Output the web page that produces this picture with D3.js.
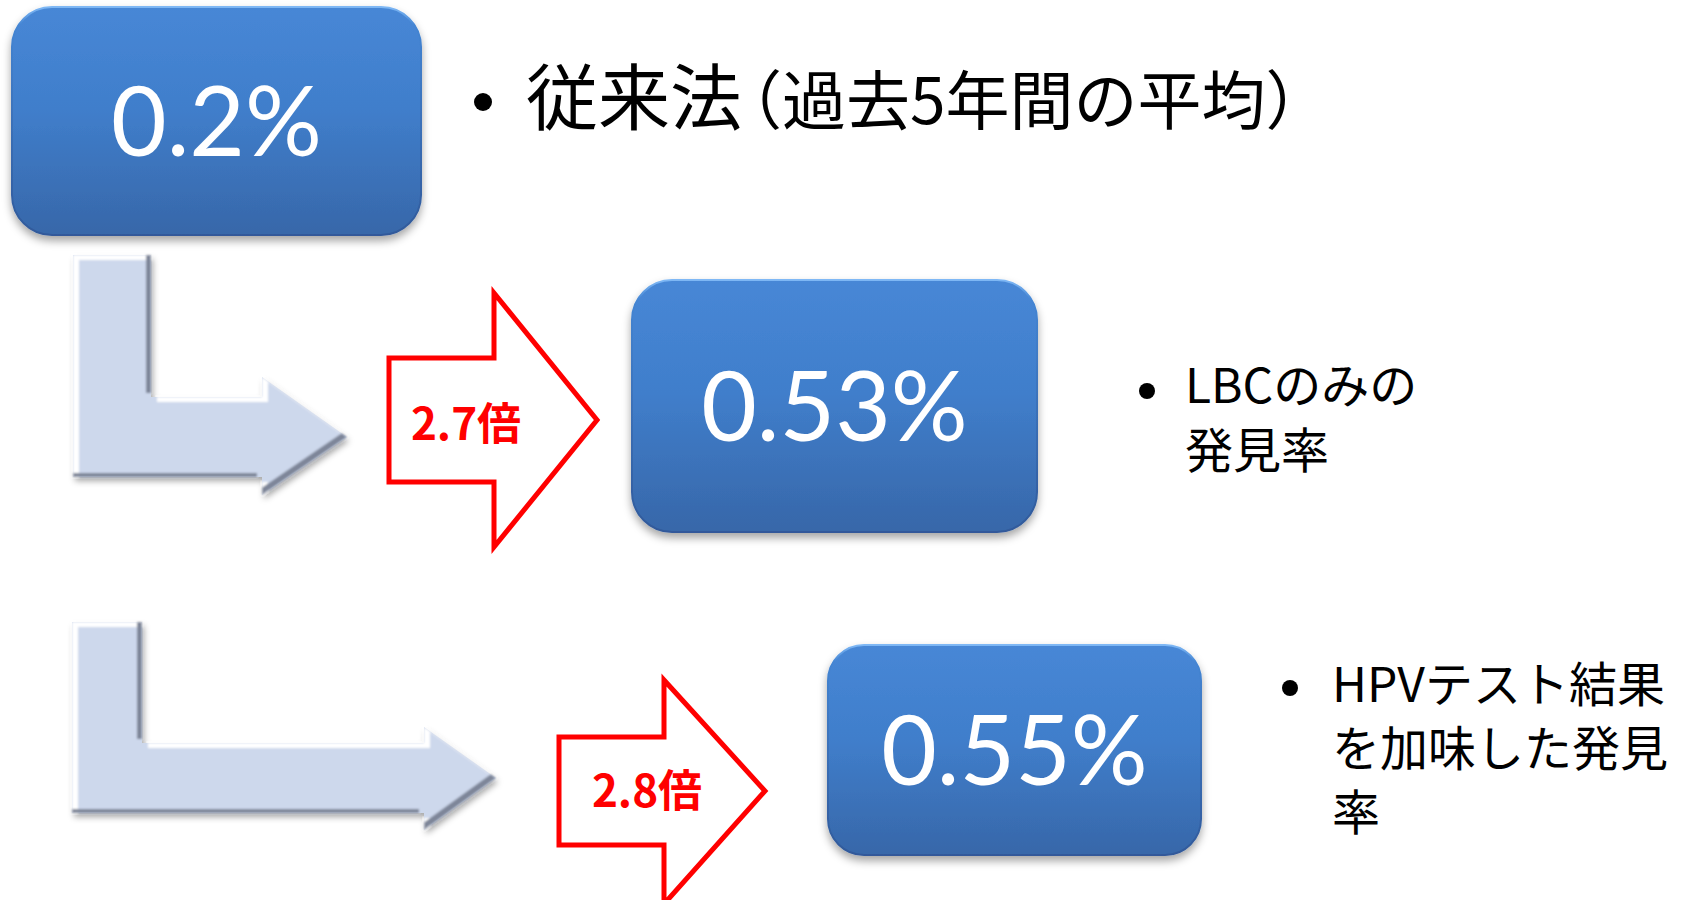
<!DOCTYPE html>
<html>
<head>
<meta charset="utf-8">
<script src="https://cdn.jsdelivr.net/npm/d3@7"></script>
<style>
  html, body { margin: 0; padding: 0; background: #ffffff; }
</style>
</head>
<body>
<div id="chart"></div>
<script>
// values
const rates = [0.2, 0.53, 0.55];
const ratios = [2.7, 2.8];
const noteLines = [
  ["LBCのみの", "発見率"],
  ["HPVテスト結果", "を加味した発見", "率"]
];
const headMain = "従来法";
const headSub = "（過去5年間の平均）";

const width = 1686;
const height = 900;

// layout of the diagram
const boxes = [
  {x: 12, y: 7, w: 409, h: 228, r: 40},
  {x: 632, y: 280, w: 405, h: 252, r: 40},
  {x: 828, y: 645, w: 373, h: 210, r: 36}
];
const elbows = [
  {x0: 73, y0: 255, bar: 78, x1: 262, yTop: 397, yBot: 477, headTop: 377, headBot: 495, tip: 347},
  {x0: 72, y0: 622, bar: 70, x1: 424, yTop: 743, yBot: 813, headTop: 727, headBot: 830, tip: 496}
];
const redArrows = [
  {x0: 389, top: 358, bot: 482, x1: 494, headTop: 293, headBot: 547, tip: 597, tx: 466, ty: 440},
  {x0: 559, top: 737, bot: 845, x1: 664, headTop: 680, headBot: 904, tip: 765, tx: 647, ty: 807}
];
const notePos = [
  {bx: 1147, by: 391, x: 1185, y: 403, lh: 65},
  {bx: 1290, by: 688, x: 1332, y: 702, lh: 64}
];

const fmtRate = d => d3.format("")(d) + "%";
const fmtRatio = d => d3.format(".1f")(d) + "倍";

const svg = d3.select("#chart")
  .append("svg")
  .attr("width", width)
  .attr("height", height)
  .style("background-color", "#FFFFFF");

const defs = svg.append("defs");

// box fill gradient
const g1 = defs.append("linearGradient").attr("id", "boxFill")
  .attr("x1", 0).attr("y1", 0).attr("x2", 0).attr("y2", 1);
g1.append("stop").attr("offset", "0%").attr("stop-color", "#4787d6");
g1.append("stop").attr("offset", "45%").attr("stop-color", "#407ecb");
g1.append("stop").attr("offset", "100%").attr("stop-color", "#3767a9");

const g2 = defs.append("linearGradient").attr("id", "boxEdge")
  .attr("x1", 0).attr("y1", 0).attr("x2", 0).attr("y2", 1);
g2.append("stop").attr("offset", "0%").attr("stop-color", "#7fb8f5");
g2.append("stop").attr("offset", "8%").attr("stop-color", "#4485d3");
g2.append("stop").attr("offset", "100%").attr("stop-color", "#30599a");

// drop shadow for boxes
const fb = defs.append("filter").attr("id", "boxShadow")
  .attr("x", "-10%").attr("y", "-10%").attr("width", "120%").attr("height", "130%");
fb.append("feGaussianBlur").attr("in", "SourceAlpha").attr("stdDeviation", 4).attr("result", "blur");
fb.append("feOffset").attr("in", "blur").attr("dx", 0).attr("dy", 5).attr("result", "off");
fb.append("feFlood").attr("flood-color", "#000").attr("flood-opacity", 0.35);
fb.append("feComposite").attr("in2", "off").attr("operator", "in").attr("result", "sh");
const fbm = fb.append("feMerge");
fbm.append("feMergeNode").attr("in", "sh");
fbm.append("feMergeNode").attr("in", "SourceGraphic");

// bevel + shadow for the grey elbow arrows
const fe = defs.append("filter").attr("id", "bevel")
  .attr("x", "-10%").attr("y", "-10%").attr("width", "125%").attr("height", "130%");
fe.append("feGaussianBlur").attr("in", "SourceAlpha").attr("stdDeviation", 3).attr("result", "b0");
fe.append("feOffset").attr("in", "b0").attr("dx", 2).attr("dy", 4).attr("result", "o0");
fe.append("feFlood").attr("flood-color", "#000").attr("flood-opacity", 0.35);
fe.append("feComposite").attr("in2", "o0").attr("operator", "in").attr("result", "shadow");
fe.append("feOffset").attr("in", "SourceAlpha").attr("dx", -5).attr("dy", -4).attr("result", "o1");
fe.append("feComposite").attr("in", "SourceAlpha").attr("in2", "o1").attr("operator", "out").attr("result", "e1");
fe.append("feFlood").attr("flood-color", "#7d8598");
fe.append("feComposite").attr("in2", "e1").attr("operator", "in").attr("result", "dark0");
fe.append("feGaussianBlur").attr("in", "dark0").attr("stdDeviation", 1).attr("result", "dark");
fe.append("feOffset").attr("in", "SourceAlpha").attr("dx", 6).attr("dy", 5).attr("result", "o2");
fe.append("feComposite").attr("in", "SourceAlpha").attr("in2", "o2").attr("operator", "out").attr("result", "e2");
fe.append("feFlood").attr("flood-color", "#ffffff");
fe.append("feComposite").attr("in2", "e2").attr("operator", "in").attr("result", "light0");
fe.append("feGaussianBlur").attr("in", "light0").attr("stdDeviation", 1).attr("result", "light");
const fem = fe.append("feMerge");
fem.append("feMergeNode").attr("in", "shadow");
fem.append("feMergeNode").attr("in", "SourceGraphic");
fem.append("feMergeNode").attr("in", "light");
fem.append("feMergeNode").attr("in", "dark");

// grey elbow arrows
const line = d3.line();
svg.selectAll("path.elbow")
  .data(elbows)
  .enter()
  .append("path")
  .attr("class", "elbow")
  .attr("d", e => {
    const mid = (e.yTop + e.yBot) / 2;
    return line([
      [e.x0, e.y0], [e.x0 + e.bar, e.y0], [e.x0 + e.bar, e.yTop], [e.x1, e.yTop],
      [e.x1, e.headTop], [e.tip, mid], [e.x1, e.headBot], [e.x1, e.yBot], [e.x0, e.yBot]
    ]) + "Z";
  })
  .style("fill", "#cdd8ec")
  .attr("filter", "url(#bevel)");

// red outline arrows
svg.selectAll("path.red")
  .data(redArrows)
  .enter()
  .append("path")
  .attr("class", "red")
  .attr("d", a => {
    const mid = (a.top + a.bot) / 2;
    return line([
      [a.x0, a.top], [a.x1, a.top], [a.x1, a.headTop], [a.tip, mid],
      [a.x1, a.headBot], [a.x1, a.bot], [a.x0, a.bot]
    ]) + "Z";
  })
  .style("fill", "#ffffff")
  .style("stroke", "#ff0000")
  .style("stroke-width", 5)
  .style("stroke-linejoin", "miter");

svg.selectAll("text.ratio")
  .data(ratios)
  .enter()
  .append("text")
  .attr("class", "ratio")
  .attr("x", (d, i) => redArrows[i].tx)
  .attr("y", (d, i) => redArrows[i].ty)
  .attr("text-anchor", "middle")
  .style("font-family", "'Noto Sans CJK JP', sans-serif")
  .style("font-weight", 700)
  .style("font-size", "44px")
  .style("fill", "#ff0000")
  .text(fmtRatio);

// blue rounded boxes
const boxG = svg.selectAll("g.box")
  .data(rates)
  .enter()
  .append("g")
  .attr("class", "box");

boxG.append("rect")
  .attr("x", (d, i) => boxes[i].x)
  .attr("y", (d, i) => boxes[i].y)
  .attr("width", (d, i) => boxes[i].w)
  .attr("height", (d, i) => boxes[i].h)
  .attr("rx", (d, i) => boxes[i].r)
  .style("fill", "url(#boxFill)")
  .style("stroke", "url(#boxEdge)")
  .style("stroke-width", 2)
  .attr("filter", "url(#boxShadow)");

boxG.append("text")
  .attr("x", (d, i) => boxes[i].x + boxes[i].w / 2)
  .attr("y", (d, i) => boxes[i].y + boxes[i].h / 2)
  .attr("dy", "0.36em")
  .attr("text-anchor", "middle")
  .style("font-family", "Lato, 'Open Sans', sans-serif")
  .style("font-size", "96px")
  .style("fill", "#ffffff")
  .text(fmtRate);

// heading next to the first box
svg.append("circle")
  .attr("cx", 483).attr("cy", 102).attr("r", 9)
  .style("fill", "#000");
const head = svg.append("text")
  .attr("x", 526)
  .attr("y", 124)
  .style("font-family", "'Noto Sans CJK JP', sans-serif")
  .style("fill", "#000");
head.append("tspan").style("font-size", "72px").text(headMain);
head.append("tspan").style("font-size", "64px").attr("dx", -24).text(headSub);

// notes
notePos.forEach((p, i) => {
  svg.append("circle")
    .attr("cx", p.bx).attr("cy", p.by).attr("r", 8)
    .style("fill", "#000");
  const t = svg.append("text")
    .style("font-family", "'Noto Sans CJK JP', sans-serif")
    .style("font-size", "48px")
    .style("fill", "#000");
  t.selectAll("tspan")
    .data(noteLines[i])
    .enter()
    .append("tspan")
    .attr("x", p.x)
    .attr("y", (d, j) => p.y + j * p.lh)
    .text(d => d);
});
</script>
</body>
</html>
